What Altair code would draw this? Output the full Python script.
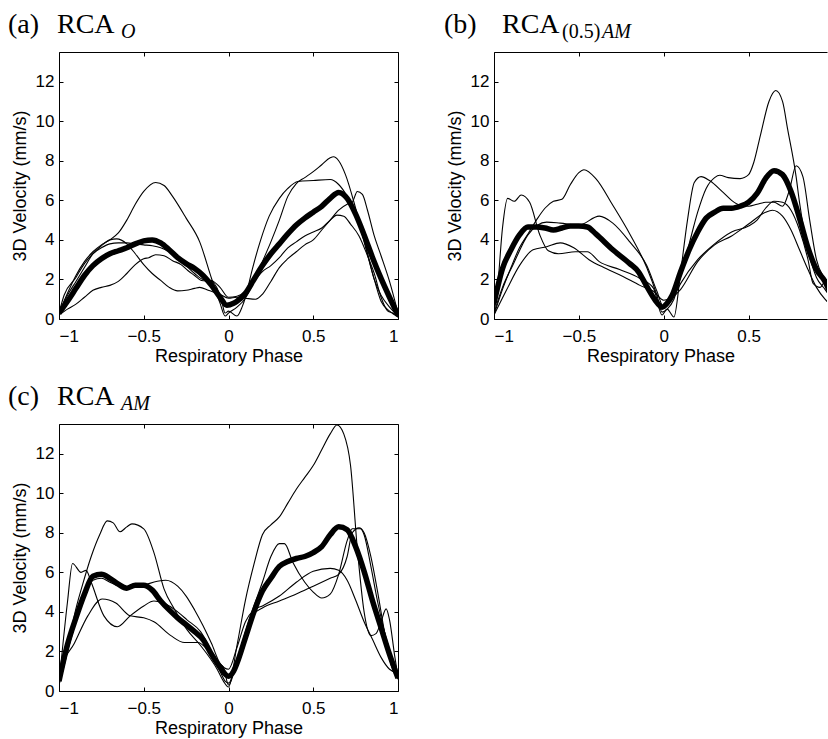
import altair as alt
import pandas as pd

X_TICKS = [-1, -0.5, 0, 0.5, 1]
X_TICKS_B = [-1, -0.5, 0, 0.5]
Y_TICKS = [0, 2, 4, 6, 8, 10, 12]
X_TITLE = "Respiratory Phase"
Y_TITLE = "3D Velocity (mm/s)"

# ---------------- panel (a) RCA_O ----------------
A_MEAN = [(-1, 0.3), (-0.95, 0.9), (-0.9, 1.55), (-0.85, 2.2), (-0.8, 2.7), (-0.75, 3.05), (-0.7, 3.3),
          (-0.65, 3.45), (-0.6, 3.6), (-0.55, 3.8), (-0.5, 3.95), (-0.45, 4.0), (-0.4, 3.85), (-0.35, 3.5),
          (-0.3, 3.1), (-0.25, 2.8), (-0.2, 2.55), (-0.15, 2.2), (-0.1, 1.7), (-0.05, 1.1), (-0.01, 0.7),
          (0.03, 0.8), (0.05, 0.9), (0.1, 1.3), (0.15, 2.0), (0.2, 2.7), (0.25, 3.3), (0.3, 3.8), (0.35, 4.3),
          (0.4, 4.75), (0.45, 5.1), (0.5, 5.4), (0.55, 5.7), (0.6, 6.1), (0.65, 6.4), (0.7, 6.1), (0.75, 5.3),
          (0.8, 4.25), (0.85, 3.1), (0.9, 2.05), (0.95, 1.1), (1, 0.2)]
A_RUN1 = [(-1, 0.3), (-0.95, 1.3), (-0.9, 2.2), (-0.85, 2.9), (-0.8, 3.4), (-0.75, 3.75), (-0.7, 4.0),
          (-0.65, 4.35), (-0.6, 5.0), (-0.55, 5.8), (-0.5, 6.45), (-0.43, 6.9), (-0.38, 6.75), (-0.33, 6.2),
          (-0.25, 5.1), (-0.17, 3.9), (-0.1, 2.05), (-0.05, 0.8), (-0.02, 0.15), (0, 0.3), (0.05, 0.6),
          (0.1, 1.05), (0.15, 1.9), (0.2, 2.9), (0.25, 3.9), (0.3, 5.0), (0.35, 6.2), (0.4, 6.85), (0.45, 7.15),
          (0.5, 7.45), (0.55, 7.8), (0.6, 8.15), (0.62, 8.2), (0.65, 8.0), (0.69, 7.3), (0.75, 5.6),
          (0.82, 3.25), (0.86, 2.0), (0.9, 0.9), (0.95, 0.4), (1, 0.1)]
A_RUN2 = [(-1, 0.3), (-0.95, 1.2), (-0.9, 1.9), (-0.85, 2.6), (-0.8, 3.3), (-0.75, 3.7), (-0.7, 4.0),
          (-0.66, 4.05), (-0.6, 3.8), (-0.55, 3.3), (-0.5, 2.75), (-0.45, 2.3), (-0.4, 1.95), (-0.35, 1.6),
          (-0.3, 1.42), (-0.25, 1.45), (-0.2, 1.55), (-0.17, 1.6), (-0.12, 1.45), (-0.05, 1.25), (0, 1.05),
          (0.05, 1.1), (0.1, 1.05), (0.16, 1.0), (0.2, 1.25), (0.25, 1.9), (0.3, 2.6), (0.35, 3.05), (0.4, 3.4),
          (0.45, 3.75), (0.5, 4.0), (0.55, 4.5), (0.6, 5.0), (0.65, 5.5), (0.7, 5.8), (0.73, 5.9), (0.76, 6.45),
          (0.79, 6.3), (0.82, 5.5), (0.86, 4.2), (0.9, 3.2), (0.95, 1.9), (1, 0.3)]
A_RUN3 = [(-1, 0.2), (-0.95, 0.5), (-0.9, 0.75), (-0.85, 1.1), (-0.8, 1.45), (-0.75, 1.6), (-0.7, 1.7),
          (-0.65, 1.9), (-0.6, 2.3), (-0.55, 2.75), (-0.5, 3.05), (-0.47, 3.1), (-0.43, 3.25), (-0.38, 3.2),
          (-0.33, 2.95), (-0.28, 2.75), (-0.24, 2.45), (-0.2, 2.2), (-0.16, 1.95), (-0.1, 1.9), (-0.07, 1.6),
          (-0.04, 0.9), (-0.02, 0.3), (0, 0.4), (0.05, 0.15), (0.08, 0.6), (0.1, 1.1), (0.14, 2.5), (0.19, 4.0),
          (0.24, 5.2), (0.3, 6.1), (0.35, 6.6), (0.41, 6.95), (0.5, 7.0), (0.6, 7.05), (0.65, 6.8), (0.7, 6.2),
          (0.75, 5.3), (0.8, 4.0), (0.86, 2.0), (0.9, 1.2), (0.95, 0.6), (1, 0.15)]
A_RUN4 = [(-1, 0.3), (-0.97, 1.2), (-0.9, 2.1), (-0.85, 2.8), (-0.8, 3.3), (-0.75, 3.6), (-0.7, 3.8),
          (-0.65, 3.85), (-0.6, 3.85), (-0.55, 3.8), (-0.5, 3.75), (-0.45, 3.7), (-0.4, 3.6), (-0.35, 3.4),
          (-0.3, 3.1), (-0.25, 2.7), (-0.2, 2.3), (-0.15, 2.0), (-0.1, 1.95), (-0.05, 1.6), (0, 1.1),
          (0.05, 1.15), (0.1, 1.4), (0.15, 1.9), (0.2, 2.4), (0.25, 2.7), (0.3, 3.1), (0.35, 3.6), (0.4, 3.9),
          (0.45, 4.2), (0.5, 4.4), (0.55, 4.6), (0.6, 5.0), (0.64, 5.25), (0.68, 5.2), (0.72, 4.8), (0.77, 4.2),
          (0.82, 3.2), (0.86, 2.3), (0.9, 1.1), (0.94, 0.4), (0.97, 0.3), (1, 0.1)]

# ---------------- panel (b) RCA_(0.5)AM ----------------
B_MEAN = [(-1, 0.8), (-0.95, 2.55), (-0.9, 3.5), (-0.85, 4.25), (-0.8, 4.65), (-0.75, 4.65), (-0.7, 4.6),
          (-0.65, 4.5), (-0.6, 4.6), (-0.55, 4.7), (-0.5, 4.7), (-0.45, 4.65), (-0.4, 4.3), (-0.3, 3.5),
          (-0.2, 2.8), (-0.15, 2.4), (-0.1, 1.65), (-0.05, 0.95), (-0.01, 0.6), (0.02, 0.8), (0.05, 1.2),
          (0.1, 2.4), (0.15, 3.5), (0.2, 4.4), (0.25, 5.1), (0.3, 5.4), (0.35, 5.6), (0.4, 5.6), (0.45, 5.7),
          (0.5, 5.9), (0.55, 6.35), (0.6, 7.1), (0.65, 7.5), (0.7, 7.3), (0.75, 6.45), (0.8, 5.1), (0.85, 3.6),
          (0.9, 2.5), (0.95, 1.9), (1, 0.9)]
B_RUN1 = [(-1, 0.2), (-0.95, 1.5), (-0.9, 2.6), (-0.85, 3.6), (-0.8, 4.3), (-0.75, 5.0), (-0.7, 5.6),
          (-0.65, 5.95), (-0.6, 6.05), (-0.55, 6.8), (-0.5, 7.4), (-0.47, 7.55), (-0.4, 7.1), (-0.3, 5.75),
          (-0.2, 4.3), (-0.1, 2.6), (-0.04, 1.2), (-0.01, 0.35), (0.02, 0.5), (0.06, 1.0), (0.1, 2.2),
          (0.15, 3.8), (0.2, 5.4), (0.25, 6.6), (0.3, 7.15), (0.33, 7.27), (0.38, 7.15), (0.45, 7.1),
          (0.5, 7.3), (0.53, 7.9), (0.57, 9.3), (0.62, 11.0), (0.66, 11.55), (0.7, 11.0), (0.73, 9.6),
          (0.78, 7.2), (0.8, 5.9), (0.85, 3.5), (0.9, 2.1), (0.95, 1.5), (1, 0.9)]
B_RUN2 = [(-1, 0.3), (-0.98, 1.5), (-0.95, 4.6), (-0.92, 6.1), (-0.88, 5.95), (-0.84, 6.27), (-0.79, 5.9),
          (-0.73, 4.25), (-0.68, 3.45), (-0.62, 3.3), (-0.52, 3.4), (-0.45, 3.4), (-0.38, 2.9), (-0.26, 2.5),
          (-0.14, 2.05), (-0.06, 1.55), (-0.01, 0.2), (0.02, 0.5), (0.06, 0.1), (0.1, 2.4), (0.14, 5.0),
          (0.18, 6.9), (0.22, 7.2), (0.27, 7.0), (0.35, 6.4), (0.4, 6.0), (0.45, 5.75), (0.5, 5.7), (0.55, 5.8),
          (0.6, 5.9), (0.65, 5.9), (0.7, 5.7), (0.74, 6.5), (0.78, 7.75), (0.82, 7.2), (0.86, 5.0), (0.9, 3.0),
          (0.95, 2.0), (1, 1.2)]
B_RUN3 = [(-1, 0.3), (-0.95, 1.6), (-0.89, 2.7), (-0.8, 4.25), (-0.69, 4.9), (-0.61, 4.85), (-0.5, 4.75),
          (-0.38, 5.2), (-0.3, 4.85), (-0.2, 3.9), (-0.1, 2.7), (-0.04, 1.4), (0, 0.6), (0.05, 1.0), (0.1, 1.8),
          (0.2, 3.0), (0.3, 3.8), (0.4, 4.4), (0.5, 4.7), (0.55, 5.0), (0.6, 5.6), (0.65, 5.95), (0.7, 5.9),
          (0.75, 5.5), (0.8, 4.5), (0.85, 3.0), (0.88, 1.8), (0.92, 1.6), (0.96, 2.0), (1, 1.5)]
B_RUN4 = [(-1, 0.2), (-0.93, 1.4), (-0.85, 2.7), (-0.77, 3.5), (-0.69, 3.65), (-0.61, 3.85), (-0.53, 3.6),
          (-0.44, 3.0), (-0.34, 2.55), (-0.24, 2.15), (-0.14, 1.7), (-0.06, 1.4), (0, 0.95), (0.05, 1.1),
          (0.1, 1.5), (0.2, 2.9), (0.3, 3.75), (0.4, 4.2), (0.5, 4.8), (0.6, 5.4), (0.64, 5.5), (0.7, 5.2),
          (0.75, 4.5), (0.8, 3.5), (0.85, 2.5), (0.9, 1.6), (0.95, 1.0), (1, 0.6)]

# ---------------- panel (c) RCA_AM ----------------
C_MEAN = [(-1, 0.5), (-0.95, 2.35), (-0.9, 3.7), (-0.85, 4.9), (-0.8, 5.8), (-0.75, 5.9), (-0.7, 5.7),
          (-0.65, 5.4), (-0.6, 5.2), (-0.55, 5.35), (-0.5, 5.35), (-0.45, 5.1), (-0.4, 4.55), (-0.35, 4.1),
          (-0.3, 3.7), (-0.25, 3.35), (-0.2, 3.0), (-0.15, 2.6), (-0.1, 1.85), (-0.05, 1.2), (0, 0.75),
          (0.03, 1.0), (0.05, 1.4), (0.1, 2.7), (0.15, 4.0), (0.2, 5.05), (0.25, 5.7), (0.3, 6.3), (0.35, 6.55),
          (0.4, 6.7), (0.45, 6.8), (0.5, 7.0), (0.55, 7.3), (0.6, 7.9), (0.65, 8.3), (0.7, 8.15), (0.75, 7.3),
          (0.8, 6.05), (0.85, 4.55), (0.9, 3.2), (0.95, 1.85), (1, 0.65)]
C_RUN1 = [(-1, 0.3), (-0.95, 2.0), (-0.91, 3.8), (-0.86, 5.4), (-0.81, 6.8), (-0.76, 7.9), (-0.715, 8.6),
          (-0.68, 8.5), (-0.64, 8.05), (-0.6, 8.3), (-0.57, 8.45), (-0.5, 8.2), (-0.44, 7.0), (-0.38, 5.15),
          (-0.32, 4.15), (-0.245, 3.1), (-0.165, 2.3), (-0.067, 1.1), (-0.03, 0.5), (0, 0.2), (0.05, 2.3),
          (0.1, 4.6), (0.15, 6.4), (0.2, 7.9), (0.25, 8.4), (0.3, 8.8), (0.35, 9.5), (0.4, 10.2), (0.45, 10.8),
          (0.5, 11.4), (0.55, 12.2), (0.6, 13.0), (0.64, 13.45), (0.68, 13.0), (0.72, 11.4), (0.76, 7.2),
          (0.8, 4.0), (0.84, 2.8), (0.87, 2.9), (0.9, 3.5), (0.93, 4.15), (0.95, 3.6), (0.98, 1.8), (1, 0.7)]
C_RUN2 = [(-1, 0.4), (-0.98, 2.1), (-0.95, 4.5), (-0.92, 6.45), (-0.87, 6.0), (-0.84, 6.1), (-0.81, 5.5),
          (-0.735, 3.8), (-0.655, 3.25), (-0.58, 3.8), (-0.5, 4.3), (-0.44, 4.55), (-0.37, 4.4), (-0.3, 4.0),
          (-0.245, 3.6), (-0.165, 3.0), (-0.106, 2.1), (-0.05, 1.0), (-0.02, 0.5), (0, 0.4), (0.05, 1.5),
          (0.1, 3.0), (0.15, 4.3), (0.2, 5.5), (0.25, 6.8), (0.3, 7.45), (0.33, 7.45), (0.38, 6.5), (0.45, 5.5),
          (0.5, 5.0), (0.55, 4.7), (0.6, 4.9), (0.65, 5.9), (0.7, 7.6), (0.73, 8.2), (0.78, 8.2), (0.8, 7.9),
          (0.84, 6.3), (0.88, 4.5), (0.92, 3.0), (0.96, 1.8), (1, 0.8)]
C_RUN3 = [(-1, 0.4), (-0.95, 2.0), (-0.9, 3.5), (-0.85, 4.8), (-0.8, 5.6), (-0.75, 5.7), (-0.7, 5.5),
          (-0.6, 5.2), (-0.5, 5.35), (-0.42, 5.55), (-0.37, 5.6), (-0.3, 5.3), (-0.25, 4.8), (-0.2, 4.1),
          (-0.15, 3.3), (-0.1, 2.4), (-0.05, 1.4), (0, 1.1), (0.05, 2.2), (0.1, 3.5), (0.15, 4.1), (0.2, 4.3),
          (0.3, 4.8), (0.4, 5.5), (0.5, 6.05), (0.6, 6.2), (0.65, 6.1), (0.7, 5.6), (0.75, 4.6), (0.8, 3.5),
          (0.85, 2.6), (0.9, 1.7), (0.95, 1.1), (1, 0.9)]
C_RUN4 = [(-1, 0.3), (-0.99, 1.1), (-0.91, 2.4), (-0.83, 3.8), (-0.745, 4.65), (-0.665, 4.45), (-0.58, 3.8),
          (-0.5, 3.7), (-0.44, 3.5), (-0.34, 2.8), (-0.26, 2.45), (-0.18, 2.45), (-0.125, 2.1), (-0.065, 1.45),
          (-0.03, 1.2), (0, 0.3), (0.05, 1.5), (0.1, 2.9), (0.15, 3.9), (0.2, 4.2), (0.3, 4.55), (0.4, 4.9),
          (0.5, 5.3), (0.6, 5.7), (0.65, 5.9), (0.7, 6.8), (0.73, 8.0), (0.77, 8.25), (0.8, 8.0), (0.84, 6.8),
          (0.88, 5.0), (0.92, 3.0), (0.96, 1.3), (1, 0.6)]

# panel titles: (prefix, main, [(subscript piece, italic?)])
TITLE_A = ["(a)", "RCA", [("O", True)]]
TITLE_B = ["(b)", "RCA", [("(0.5)", False), ("AM", True)]]
TITLE_C = ["(c)", "RCA", [("AM", True)]]

W, H = 339, 267
W_B = 333            # panel (b) runs off the right edge of the figure
X_MAX_B = 0.962
LABEL_FONT = "Liberation Sans"
SERIF = "Liberation Serif"


def title_layers(parts, prefix_x, main_x, sub_x):
    prefix, main, subs = parts
    layers = []
    layers.append(alt.Chart(pd.DataFrame({"t": [prefix]})).mark_text(
        align="left", baseline="alphabetic", font=SERIF, fontSize=28, color="black"
    ).encode(x=alt.value(prefix_x), y=alt.value(-19), text="t:N"))
    layers.append(alt.Chart(pd.DataFrame({"t": [main]})).mark_text(
        align="left", baseline="alphabetic", font=SERIF, fontSize=28, color="black"
    ).encode(x=alt.value(main_x), y=alt.value(-19), text="t:N"))
    for (txt, italic), sx in zip(subs, sub_x):
        layers.append(alt.Chart(pd.DataFrame({"t": [txt]})).mark_text(
            align="left", baseline="alphabetic", font=SERIF, fontSize=20, color="black",
            fontStyle="italic" if italic else "normal"
        ).encode(x=alt.value(sx), y=alt.value(-13.6), text="t:N"))
    return layers


def frame_axis(orient, values):
    return alt.Axis(orient=orient, values=values, labels=False, title=None, grid=False,
                    domain=True, domainColor="black", domainWidth=1, ticks=False, offset=0)


def tick_axis(orient, values):
    return alt.Axis(orient=orient, values=values, labels=False, title=None, grid=False,
                    domain=False, ticks=True, tickSize=4, offset=-4)


def panel(mean, runs, parts, prefix_x, main_x, sub_x, xmax=1.0, width=W, xticks=X_TICKS,
          right=True):
    rows = []
    for i, run in enumerate(runs):
        for x, y in run:
            rows.append({"x": x, "y": y, "s": f"run{i}"})
    thin_df = pd.DataFrame(rows)
    mean_df = pd.DataFrame(mean, columns=["x", "y"])
    xs = alt.Scale(domain=[-1, xmax], nice=False, zero=False)
    ys = alt.Scale(domain=[0, 13.5], nice=False, zero=False)
    thin = alt.Chart(thin_df).mark_line(
        color="black", strokeWidth=1.1, interpolate="monotone", clip=True
    ).encode(
        x=alt.X("x:Q", scale=xs, axis=alt.Axis(
            orient="bottom", values=xticks, format="~g", title=X_TITLE, grid=False,
            domain=False, ticks=True, tickSize=4, offset=-4, labelPadding=9,
            titlePadding=3)),
        y=alt.Y("y:Q", scale=ys, axis=alt.Axis(
            orient="left", values=Y_TICKS, format="d", title=Y_TITLE, grid=False,
            domain=False, ticks=True, tickSize=4, offset=-4, labelPadding=5,
            titlePadding=6)),
        detail="s:N",
    )
    thick = alt.Chart(mean_df).mark_line(
        color="black", strokeWidth=5.5, interpolate="monotone", clip=True, strokeJoin="round"
    ).encode(
        x=alt.X("x:Q", scale=xs, axis=tick_axis("top", xticks)),
        y=alt.Y("y:Q", scale=ys, axis=tick_axis("right", Y_TICKS) if right else None),
    )
    frame1 = alt.Chart(mean_df).mark_line(strokeOpacity=0, clip=True).encode(
        x=alt.X("x:Q", scale=xs, axis=frame_axis("bottom", xticks)),
        y=alt.Y("y:Q", scale=ys, axis=frame_axis("left", Y_TICKS)),
    )
    frame2 = alt.Chart(mean_df).mark_line(strokeOpacity=0, clip=True).encode(
        x=alt.X("x:Q", scale=xs, axis=frame_axis("top", xticks)),
        y=alt.Y("y:Q", scale=ys, axis=frame_axis("right", Y_TICKS) if right else None),
    )
    layers = [frame1, frame2, thin, thick] + title_layers(parts, prefix_x, main_x, sub_x)
    return alt.layer(*layers).resolve_axis(x="independent", y="independent").properties(
        width=width, height=H)


pa = panel(A_MEAN, [A_RUN1, A_RUN2, A_RUN3, A_RUN4], TITLE_A, -51, -2, [62])
pb = panel(B_MEAN, [B_RUN1, B_RUN2, B_RUN3, B_RUN4], TITLE_B, -50, 8, [68, 108],
           xmax=X_MAX_B, width=W_B, xticks=X_TICKS_B, right=False)
pc = panel(C_MEAN, [C_RUN1, C_RUN2, C_RUN3, C_RUN4], TITLE_C, -51, -2, [62])

chart = alt.concat(
    pa, pb, pc, columns=2, spacing=alt.RowColnumber(row=105, column=96), bounds="flush"
).properties(
    padding={"left": 7, "top": 10, "right": 0, "bottom": 0},
    background="white",
).configure_view(
    stroke="transparent"
).configure_axis(
    labelFont=LABEL_FONT, labelFontSize=17, labelColor="black",
    titleFont=LABEL_FONT, titleFontSize=18, titleFontWeight="normal", titleColor="black",
    tickColor="black", tickWidth=1
)

chart.save("out.html", embed_options={"renderer": "svg", "actions": False})
